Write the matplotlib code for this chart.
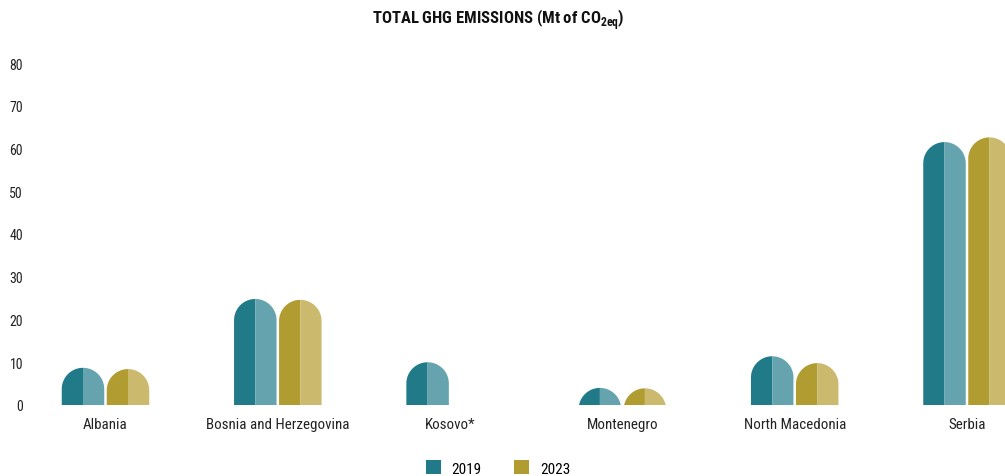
import numpy as np
import matplotlib
matplotlib.use("Agg")
import matplotlib.pyplot as plt
from matplotlib.path import Path
from matplotlib.patches import PathPatch, Patch

plt.rcParams['font.family'] = ['Roboto Condensed', 'DejaVu Sans']
plt.rcParams['mathtext.fontset'] = 'custom'
plt.rcParams['mathtext.rm'] = 'Roboto Condensed'
plt.rcParams['mathtext.bf'] = 'Roboto Condensed:bold'

countries = ["Albania", "Bosnia and Herzegovina", "Kosovo*", "Montenegro",
             "North Macedonia", "Serbia"]
years = ["2019", "2023"]
emissions_2019 = [8.7, 24.8, 10.0, 4.0, 11.4, 61.5]
emissions_2023 = [8.4, 24.6, np.nan, 3.9, 9.8, 62.6]

dark = {"2019": "#217a88", "2023": "#b19c31"}
light = {"2019": "#65a4ae", "2023": "#cbb96d"}

W, H, DPI = 1005, 477, 100
fig = plt.figure(figsize=(W / DPI, H / DPI), dpi=DPI)

# axes box in pixels
ax_left, ax_right = 30, 1005
ax_bottom, ax_top = 406, 64  # pixel rows for y=0 and y=80
ax = fig.add_axes([ax_left / W, (H - ax_bottom) / H,
                   (ax_right - ax_left) / W, (ax_bottom - ax_top) / H])

cat_px0, cat_step = 105.5, 172.3
ax.set_xlim((ax_left - cat_px0) / cat_step, (ax_right - cat_px0) / cat_step)
ax.set_ylim(0, 80)

px_x = cat_step                       # pixels per x unit
px_y = (ax_bottom - ax_top) / 80.0    # pixels per y unit

bar_w = 42.5 / px_x
gap = 2.5 / px_x
rx = bar_w / 2
ry = (42.5 / 2) / px_y


def half_bar(xc, top, side):
    # half of a bar with a round cap; side = -1 left, +1 right
    base = -10
    if side < 0:
        t = np.linspace(np.pi, np.pi / 2, 30)
        x0 = xc - rx
        verts = [(x0, base), (x0, top - ry)]
        verts += [(xc + rx * np.cos(a), top - ry + ry * np.sin(a)) for a in t]
        verts += [(xc, base), (x0, base)]
    else:
        t = np.linspace(np.pi / 2, 0, 30)
        verts = [(xc, base), (xc, top)]
        verts += [(xc + rx * np.cos(a), top - ry + ry * np.sin(a)) for a in t]
        verts += [(xc + rx, base), (xc, base)]
    codes = [Path.MOVETO] + [Path.LINETO] * (len(verts) - 2) + [Path.CLOSEPOLY]
    return Path(verts, codes)


x = np.arange(len(countries))
for yr, vals, off in [("2019", emissions_2019, -(rx + gap / 2)),
                      ("2023", emissions_2023, rx + gap / 2)]:
    for xi, v in zip(x, vals):
        if np.isnan(v):
            continue
        xc = xi + off
        ax.add_patch(PathPatch(half_bar(xc, v, -1), facecolor=dark[yr],
                               edgecolor='none', lw=0))
        ax.add_patch(PathPatch(half_bar(xc, v, 1), facecolor=light[yr],
                               edgecolor='none', lw=0))

ax.set_xticks(x)
ax.set_xticklabels(countries, fontsize=10.8, color="#222222")
ax.set_yticks(np.arange(0, 81, 10))
ax.tick_params(axis='y', labelsize=10, colors="#222222", length=0, pad=5)
ax.tick_params(axis='x', length=0, pad=9)
for s in ax.spines.values():
    s.set_visible(False)

fig.text(498 / W, 1 - 20 / H, r"TOTAL GHG EMISSIONS (Mt of CO$_{\mathbf{2eq}}$)",
         ha='center', va='center', fontsize=12, fontweight='bold', color="#111111")

handles = [Patch(facecolor=dark[y], edgecolor='none') for y in years]
fig.legend(handles, years, loc='center', bbox_to_anchor=(498 / W, 1 - 469 / H),
           ncol=2, frameon=False, fontsize=11, handlelength=1.0, handleheight=1.0,
           columnspacing=2.1, handletextpad=0.7)

fig.savefig("out.png", dpi=DPI)
